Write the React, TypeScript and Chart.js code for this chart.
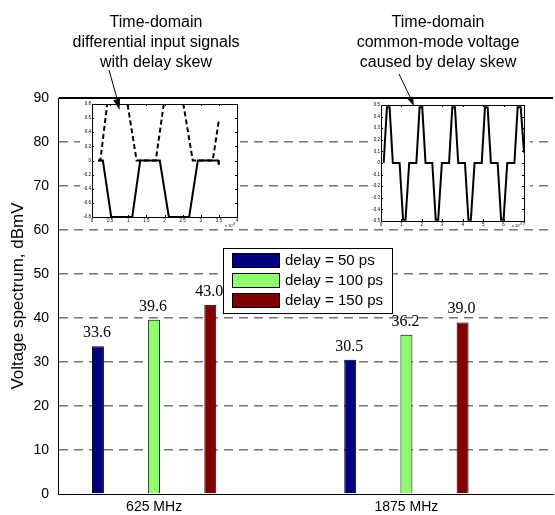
import { useEffect, useRef } from 'react';
import { Chart, registerables } from 'chart.js';

Chart.register(...registerables);

// ---------------- data ----------------
const CATEGORIES = ['625 MHz', '1875 MHz'];
const SERIES_LABELS = ['delay = 50 ps', 'delay = 100 ps', 'delay = 150 ps'];
const DELAY_50 = [33.6, 30.5];
const DELAY_100 = [39.6, 36.2];
const DELAY_150 = [43.0, 39.0];
const SERIES_COLORS = ['#000080', '#8fff70', '#800000'];
const Y_TITLE = 'Voltage spectrum, dBmV';

const NOTE_LEFT = ['Time-domain', 'differential input signals', 'with delay skew'];
const NOTE_RIGHT = ['Time-domain', 'common-mode voltage', 'caused by delay skew'];

// inset 1: differential input signals (time in ns, volts)
const INSET1_DASHED: [number, number][] = [
  [0.17, 0], [0.23, 0], [0.42, 0.8], [0.98, 0.8], [1.23, 0], [1.76, 0], [1.98, 0.8],
  [2.52, 0.8], [2.78, 0], [3.33, 0], [3.5, 0.57],
];
const INSET1_SOLID: [number, number][] = [
  [0.17, 0], [0.3, 0], [0.53, -0.8], [1.11, -0.8], [1.33, 0], [1.87, 0], [2.12, -0.8],
  [2.68, -0.8], [2.92, 0], [3.48, 0], [3.5, -0.06],
];
// inset 2: common-mode voltage
const INSET2_SOLID: [number, number][] = [
  [0.13, 0], [0.29, 0.48], [0.42, 0.48], [0.58, 0], [0.91, 0], [1.08, -0.49], [1.2, -0.49], [1.38, 0],
  [1.73, 0], [1.89, 0.48], [2.02, 0.48], [2.18, 0], [2.51, 0], [2.68, -0.49], [2.8, -0.49], [2.98, 0],
  [3.33, 0], [3.49, 0.48], [3.62, 0.48], [3.78, 0], [4.11, 0], [4.28, -0.49], [4.4, -0.49], [4.58, 0],
  [4.93, 0], [5.09, 0.48], [5.22, 0.48], [5.38, 0], [5.71, 0], [5.88, -0.49], [6.0, -0.49], [6.18, 0],
  [6.53, 0], [6.69, 0.48], [6.84, 0.48], [7.0, 0.09],
];

const SANS = '"Liberation Sans", Arial, Helvetica, sans-serif';
const SERIF = '"Liberation Serif", "Times New Roman", serif';

// ---------------- layout ----------------
const W = 555;
const H = 515;
const INSET1_BOX = { left: 80, top: 99, width: 160, height: 129 };
const INSET2_BOX = { left: 370, top: 100, width: 160, height: 128 };

const fmt = (v: number) => String(+Number(v).toFixed(2));

// ---------------- plugins ----------------
const boxLegend = {
  id: 'boxLegend',
  afterDraw(chart: any) {
    const { ctx } = chart;
    const left = 223, top = 248, width = 169, height = 65;
    ctx.save();
    ctx.fillStyle = '#fff';
    ctx.fillRect(left, top, width, height);
    ctx.strokeStyle = '#000';
    ctx.lineWidth = 1;
    ctx.strokeRect(left + 0.5, top + 0.5, width, height);
    ctx.font = `15px ${SANS}`;
    ctx.textBaseline = 'middle';
    ctx.textAlign = 'left';
    chart.data.datasets.forEach((ds: any, i: number) => {
      const y = top + 5 + i * 20;
      ctx.fillStyle = ds.backgroundColor;
      ctx.fillRect(left + 9, y, 48, 15);
      ctx.strokeStyle = '#000';
      ctx.strokeRect(left + 9.5, y + 0.5, 47, 14);
      ctx.fillStyle = '#000';
      ctx.fillText(ds.label, left + 62, y + 8);
    });
    ctx.restore();
  },
};

const valueLabels = {
  id: 'valueLabels',
  afterDraw(chart: any) {
    const { ctx } = chart;
    ctx.save();
    ctx.font = `16px ${SERIF}`;
    ctx.fillStyle = '#000';
    ctx.textAlign = 'center';
    ctx.textBaseline = 'alphabetic';
    chart.data.datasets.forEach((ds: any, di: number) => {
      const meta = chart.getDatasetMeta(di);
      meta.data.forEach((el: any, i: number) => {
        const v = ds.data[i].y as number;
        ctx.fillText(v.toFixed(1), el.x - 1, el.y - 9);
      });
    });
    ctx.restore();
  },
};

const notes = {
  id: 'notes',
  afterDraw(chart: any) {
    const { ctx } = chart;
    ctx.save();
    ctx.font = `16px ${SANS}`;
    ctx.fillStyle = '#000';
    ctx.textAlign = 'center';
    ctx.textBaseline = 'alphabetic';
    NOTE_LEFT.forEach((t, i) => ctx.fillText(t, 156, 27 + i * 20));
    NOTE_RIGHT.forEach((t, i) => ctx.fillText(t, 438, 27 + i * 20));
    ctx.restore();
  },
};

const insetFrame = {
  id: 'insetFrame',
  beforeDraw(chart: any) {
    const { ctx } = chart;
    ctx.save();
    ctx.fillStyle = '#fff';
    ctx.fillRect(0, 0, chart.width, chart.height);
    ctx.restore();
  },
  afterDraw(chart: any) {
    const { ctx, chartArea: a } = chart;
    const xs = chart.scales.x;
    const ys = chart.scales.y;
    ctx.save();
    ctx.strokeStyle = '#000';
    ctx.lineWidth = 1;
    ctx.strokeRect(Math.round(a.left) + 0.5, Math.round(a.top) + 0.5, Math.round(a.right - a.left), Math.round(a.bottom - a.top));
    ctx.beginPath();
    xs.ticks.forEach((t: any) => {
      const px = Math.round(xs.getPixelForValue(t.value)) + 0.5;
      ctx.moveTo(px, a.bottom); ctx.lineTo(px, a.bottom - 2);
      ctx.moveTo(px, a.top); ctx.lineTo(px, a.top + 2);
    });
    ys.ticks.forEach((t: any) => {
      const py = Math.round(ys.getPixelForValue(t.value)) + 0.5;
      ctx.moveTo(a.left, py); ctx.lineTo(a.left + 2, py);
      ctx.moveTo(a.right, py); ctx.lineTo(a.right - 2, py);
    });
    ctx.stroke();
    ctx.fillStyle = '#000';
    ctx.textAlign = 'left';
    ctx.textBaseline = 'alphabetic';
    ctx.font = `4px ${SANS}`;
    ctx.fillText('x 10', a.right - 12, chart.height - 1);
    ctx.font = `3px ${SANS}`;
    ctx.fillText('-9', a.right - 4.5, chart.height - 3.5);
    ctx.restore();
  },
};

// ---------------- charts ----------------
function makeMain(canvas: HTMLCanvasElement) {
  const series = [DELAY_50, DELAY_100, DELAY_150];
  return new Chart(canvas, {
    type: 'bar',
    data: {
      datasets: series.map((vals, si) => ({
        label: SERIES_LABELS[si],
        data: vals.map((v, i) => ({ x: i + 1, y: v })),
        backgroundColor: SERIES_COLORS[si],
        borderColor: '#000',
        borderWidth: 1,
        borderSkipped: 'bottom',
        categoryPercentage: 0.668,
        barPercentage: 0.213,
      })),
    },
    options: {
      animation: false,
      responsive: false,
      devicePixelRatio: 1,
      layout: { padding: { top: 98, right: 2, left: 0, bottom: 0 } },
      plugins: { legend: { display: false }, tooltip: { enabled: false } },
      scales: {
        x: {
          type: 'linear',
          offset: false,
          min: 0.619,
          max: 2.581,
          afterBuildTicks: (scale: any) => {
            scale.ticks = CATEGORIES.map((_, i) => ({ value: i + 1 }));
          },
          afterFit: (scale: any) => { scale.height = 21; },
          grid: { display: false, drawTicks: false },
          border: { display: true, color: '#000', width: 1 },
          ticks: {
            padding: 5,
            color: '#000',
            font: { family: SANS, size: 14 },
            autoSkip: false,
            maxRotation: 0,
            callback: (v: any) => CATEGORIES[Math.round(v) - 1] ?? '',
          },
        },
        y: {
          min: 0,
          max: 90,
          afterFit: (scale: any) => { scale.width = 58; },
          ticks: { stepSize: 10, padding: 9, color: '#000', font: { family: SANS, size: 14 } },
          grid: {
            drawTicks: false,
            color: (c: any) => (c.tick && c.tick.value === 90 ? '#000' : c.tick && c.tick.value === 0 ? 'rgba(0,0,0,0)' : '#757575'),
            lineWidth: (c: any) => (c.tick && c.tick.value === 90 ? 2 : 1.5),
          },
          border: {
            display: true,
            color: '#000',
            width: 1,
            dash: (c: any) => (c.tick && c.tick.value !== 90 ? [9, 6] : []),
          },
          title: {
            display: true,
            text: Y_TITLE,
            color: '#000',
            font: { family: SANS, size: 17 },
            padding: { top: 8, bottom: 0 },
          },
        },
      },
    },
    plugins: [boxLegend, valueLabels, notes],
  } as any);
}

type InsetSpec = {
  xMin: number; xMax: number; xStep: number;
  yMin: number; yMax: number; yStep: number;
  yWidth: number; xHeight: number; padTop: number; padRight: number;
  lines: { pts: [number, number][]; dash: number[] }[];
};

function makeInset(canvas: HTMLCanvasElement, s: InsetSpec) {
  const tickFont = { family: SANS, size: 4.5 };
  return new Chart(canvas, {
    type: 'line',
    data: {
      datasets: s.lines.map((l) => ({
        data: l.pts.map(([x, y]) => ({ x, y })),
        borderColor: '#000',
        borderWidth: 2,
        borderDash: l.dash,
        pointRadius: 0,
        tension: 0,
        fill: false,
      })),
    },
    options: {
      animation: false,
      responsive: false,
      devicePixelRatio: 1,
      layout: { padding: { top: s.padTop, right: s.padRight, left: 0, bottom: 0 } },
      plugins: { legend: { display: false }, tooltip: { enabled: false } },
      scales: {
        x: {
          type: 'linear', min: s.xMin, max: s.xMax,
          afterFit: (sc: any) => { sc.height = s.xHeight; },
          grid: { display: false, drawTicks: false },
          border: { display: false },
          ticks: { stepSize: s.xStep, padding: 1, color: '#000', font: tickFont, autoSkip: false, maxRotation: 0, callback: (v: any) => fmt(v) },
        },
        y: {
          type: 'linear', min: s.yMin, max: s.yMax,
          afterFit: (sc: any) => { sc.width = s.yWidth; },
          grid: { display: false, drawTicks: false },
          border: { display: false },
          ticks: { stepSize: s.yStep, padding: 1, color: '#000', font: tickFont, autoSkip: false, callback: (v: any) => fmt(v) },
        },
      },
    },
    plugins: [insetFrame],
  } as any);
}

function arrowHead(x1: number, y1: number, x2: number, y2: number, len: number, half: number) {
  const dx = x2 - x1, dy = y2 - y1;
  const d = Math.hypot(dx, dy);
  const ux = dx / d, uy = dy / d;
  const bx = x2 - ux * len, by = y2 - uy * len;
  return `${x2},${y2} ${bx - uy * half},${by + ux * half} ${bx + uy * half},${by - ux * half}`;
}

export default function App() {
  const mainRef = useRef<HTMLCanvasElement>(null);
  const in1Ref = useRef<HTMLCanvasElement>(null);
  const in2Ref = useRef<HTMLCanvasElement>(null);

  useEffect(() => {
    const main = makeMain(mainRef.current!);
    const i1 = makeInset(in1Ref.current!, {
      xMin: 0, xMax: 4, xStep: 0.5, yMin: -0.8, yMax: 0.8, yStep: 0.2,
      yWidth: 12, xHeight: 11, padTop: 5, padRight: 3,
      lines: [
        { pts: INSET1_DASHED, dash: [5, 3] },
        { pts: INSET1_SOLID, dash: [] },
      ],
    });
    const i2 = makeInset(in2Ref.current!, {
      xMin: 0, xMax: 7, xStep: 1, yMin: -0.5, yMax: 0.5, yStep: 0.1,
      yWidth: 11, xHeight: 7, padTop: 5, padRight: 6,
      lines: [{ pts: INSET2_SOLID, dash: [] }],
    });
    return () => { main.destroy(); i1.destroy(); i2.destroy(); };
  }, []);

  const abs = (b: { left: number; top: number; width: number; height: number }) => ({
    position: 'absolute' as const, left: b.left, top: b.top, width: b.width, height: b.height,
  });

  return (
    <div style={{ position: 'absolute', left: 0, top: 0, width: W, height: H, background: '#fff' }}>
      <canvas ref={mainRef} width={W} height={H} style={{ position: 'absolute', left: 0, top: 0 }} />
      <canvas ref={in1Ref} width={INSET1_BOX.width} height={INSET1_BOX.height} style={abs(INSET1_BOX)} />
      <canvas ref={in2Ref} width={INSET2_BOX.width} height={INSET2_BOX.height} style={abs(INSET2_BOX)} />
      <svg width={W} height={H} style={{ position: 'absolute', left: 0, top: 0, pointerEvents: 'none' }}>
        <line x1={109} y1={70} x2={118} y2={102} stroke="#000" strokeWidth={1} />
        <polygon points={arrowHead(109, 70, 119.5, 110, 11, 3.5)} fill="#000" />
        <line x1={399} y1={74} x2={411} y2={99} stroke="#000" strokeWidth={1} />
        <polygon points={arrowHead(399, 74, 414, 106, 9, 3)} fill="#000" />
      </svg>
    </div>
  );
}
